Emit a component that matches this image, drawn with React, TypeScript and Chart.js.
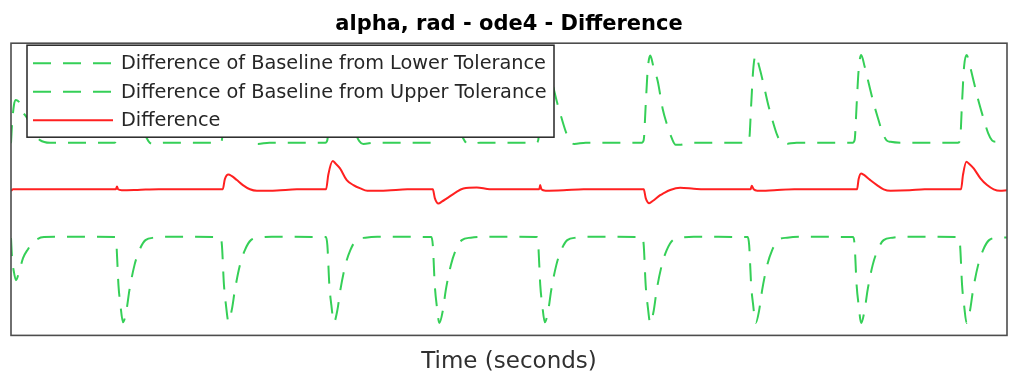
import React, { useEffect, useRef } from "react";
import { Chart, registerables } from "chart.js";

Chart.register(...registerables);

const TITLE = "alpha, rad - ode4 - Difference";
const X_LABEL = "Time (seconds)";
const LABEL_LOWER = "Difference of Baseline from Lower Tolerance";
const LABEL_UPPER = "Difference of Baseline from Upper Tolerance";
const LABEL_DIFF = "Difference";

const T_MIN = 0;
const T_MAX = 9.445;
const Y_MIN = -1;
const Y_MAX = 1;

const GREEN = "#35cf57";
const RED = "#ff2020";

// Lower tolerance difference (dashed green, lower curve)
const lowerTime = [
  0, 0.0095, 0.028, 0.047, 0.076, 0.114, 0.161, 0.209, 0.313, 0.465,
  0.986, 1.0, 1.019, 1.038, 1.062, 1.095, 1.123, 1.171, 1.218, 1.275, 1.36, 1.474,
  1.986, 2.0, 2.019, 2.038, 2.062, 2.095, 2.123, 2.171, 2.218, 2.275, 2.36, 2.474,
  2.986, 3.0, 3.019, 3.038, 3.062, 3.095, 3.123, 3.171, 3.218, 3.275, 3.36, 3.474,
  3.986, 4.0, 4.019, 4.038, 4.062, 4.095, 4.123, 4.171, 4.218, 4.275, 4.36, 4.474,
  4.986, 5.0, 5.019, 5.038, 5.062, 5.095, 5.123, 5.171, 5.218, 5.275, 5.36, 5.474,
  5.986, 6.0, 6.019, 6.038, 6.062, 6.095, 6.123, 6.171, 6.218, 6.275, 6.36, 6.474,
  6.986, 7.0, 7.019, 7.038, 7.062, 7.095, 7.123, 7.171, 7.218, 7.275, 7.36, 7.474,
  7.986, 8.0, 8.019, 8.038, 8.062, 8.095, 8.123, 8.171, 8.218, 8.275, 8.36, 8.474,
  8.986, 9.0, 9.019, 9.038, 9.062, 9.095, 9.123, 9.171, 9.218, 9.275, 9.36, 9.445,
];
const lowerValue = [
  -0.334, -0.464, -0.568, -0.622, -0.568, -0.471, -0.41, -0.362, -0.327, -0.325,
  -0.327, -0.382, -0.656, -0.793, -0.91, -0.827, -0.69, -0.519, -0.416, -0.348, -0.331, -0.325,
  -0.327, -0.382, -0.65, -0.79, -0.905, -0.82, -0.69, -0.519, -0.416, -0.348, -0.331, -0.325,
  -0.327, -0.382, -0.656, -0.793, -0.91, -0.827, -0.69, -0.519, -0.416, -0.348, -0.331, -0.325,
  -0.327, -0.382, -0.66, -0.8, -0.915, -0.83, -0.69, -0.52, -0.416, -0.348, -0.331, -0.325,
  -0.327, -0.382, -0.656, -0.793, -0.91, -0.827, -0.69, -0.519, -0.416, -0.348, -0.331, -0.325,
  -0.327, -0.382, -0.66, -0.8, -0.915, -0.83, -0.69, -0.52, -0.416, -0.348, -0.331, -0.325,
  -0.327, -0.382, -0.656, -0.793, -0.915, -0.827, -0.69, -0.519, -0.416, -0.348, -0.331, -0.325,
  -0.327, -0.382, -0.656, -0.793, -0.915, -0.827, -0.69, -0.519, -0.416, -0.348, -0.331, -0.325,
  -0.327, -0.382, -0.656, -0.793, -0.915, -0.827, -0.69, -0.519, -0.416, -0.348, -0.331, -0.33,
];

// Upper tolerance difference (dashed green, upper curve)
const upperTime = [
  0, 0.0095, 0.028, 0.047, 0.076, 0.114, 0.152, 0.209, 0.275, 0.37,
  0.981, 1.0, 1.019, 1.038, 1.062, 1.095, 1.133, 1.18, 1.218, 1.266, 1.303, 1.341, 1.45,
  1.981, 2.0, 2.019, 2.038, 2.062, 2.095, 2.133, 2.18, 2.218, 2.266, 2.303, 2.341, 2.45,
  2.981, 3.0, 3.019, 3.038, 3.062, 3.095, 3.133, 3.18, 3.218, 3.266, 3.303, 3.341, 3.45,
  3.981, 4.0, 4.019, 4.038, 4.062, 4.095, 4.133, 4.18, 4.218, 4.266, 4.303, 4.341, 4.45,
  4.981, 5.0, 5.019, 5.038, 5.062, 5.095, 5.133, 5.18, 5.218, 5.266, 5.303, 5.341, 5.45,
  5.981, 6.0, 6.019, 6.038, 6.062, 6.095, 6.133, 6.18, 6.218, 6.266, 6.303, 6.341, 6.45,
  6.981, 7.0, 7.019, 7.038, 7.062, 7.095, 7.133, 7.18, 7.218, 7.266, 7.303, 7.341, 7.45,
  7.981, 8.0, 8.019, 8.038, 8.062, 8.095, 8.133, 8.18, 8.218, 8.266, 8.303, 8.341, 8.45,
  8.981, 9.0, 9.019, 9.038, 9.062, 9.095, 9.133, 9.18, 9.218, 9.266, 9.303, 9.341, 9.445,
];
const upperValue = [
  0.316, 0.44, 0.577, 0.611, 0.597, 0.529, 0.488, 0.392, 0.337, 0.319,
  0.319, 0.337, 0.577, 0.816, 0.915, 0.83, 0.727, 0.59, 0.495, 0.385, 0.33, 0.31, 0.319,
  0.319, 0.337, 0.577, 0.816, 0.915, 0.83, 0.727, 0.59, 0.495, 0.385, 0.33, 0.31, 0.319,
  0.319, 0.337, 0.577, 0.816, 0.915, 0.83, 0.727, 0.59, 0.495, 0.385, 0.33, 0.31, 0.319,
  0.319, 0.337, 0.577, 0.816, 0.915, 0.83, 0.727, 0.59, 0.495, 0.385, 0.33, 0.31, 0.319,
  0.319, 0.337, 0.577, 0.816, 0.915, 0.83, 0.727, 0.59, 0.495, 0.385, 0.33, 0.31, 0.319,
  0.319, 0.337, 0.58, 0.82, 0.915, 0.83, 0.74, 0.55, 0.45, 0.35, 0.305, 0.305, 0.319,
  0.319, 0.337, 0.577, 0.816, 0.919, 0.84, 0.73, 0.58, 0.48, 0.37, 0.32, 0.31, 0.319,
  0.319, 0.337, 0.577, 0.816, 0.919, 0.84, 0.727, 0.59, 0.495, 0.385, 0.335, 0.325, 0.319,
  0.319, 0.337, 0.6, 0.84, 0.919, 0.84, 0.727, 0.59, 0.495, 0.385, 0.335, 0.325, 0.33,
];

// Difference (solid red)
const diffTime = [
  0, 0.02,
  0.995, 1.005, 1.015, 1.05, 1.2, 1.4,
  2.008, 2.028, 2.061, 2.095, 2.142, 2.199, 2.266, 2.332, 2.522, 2.711,
  2.988, 3.009, 3.051, 3.076, 3.12, 3.184, 3.247, 3.313, 3.379, 3.569, 3.759,
  4.0, 4.019, 4.053, 4.085, 4.133, 4.211, 4.29, 4.417, 4.541,
  5.01, 5.018, 5.03, 5.07, 5.24, 5.43,
  6.0, 6.019, 6.052, 6.085, 6.156, 6.185, 6.251, 6.346, 6.474, 6.569,
  7.014, 7.024, 7.043, 7.076, 7.237, 7.427,
  8.023, 8.038, 8.061, 8.085, 8.149, 8.212, 8.275, 8.341, 8.522, 8.664,
  9.009, 9.028, 9.06, 9.085, 9.129, 9.193, 9.256, 9.319, 9.379, 9.445,
];
const diffValue = [
  -0.01, 0,
  0, 0.02, 0, -0.006, -0.004, 0,
  0, 0.07, 0.102, 0.09, 0.063, 0.029, 0, -0.01, -0.008, 0,
  0, 0.1, 0.193, 0.178, 0.143, 0.063, 0.029, 0.006, -0.01, -0.008, 0,
  0, -0.06, -0.097, -0.085, -0.062, -0.024, 0.006, 0.013, 0,
  0, 0.029, 0, -0.01, -0.007, 0,
  0, -0.06, -0.095, -0.08, -0.04, -0.028, -0.005, 0.01, 0.004, 0,
  0, 0.024, 0, -0.01, -0.006, 0,
  0, 0.07, 0.109, 0.1, 0.063, 0.029, 0, -0.01, -0.007, 0,
  0, 0.1, 0.188, 0.175, 0.143, 0.075, 0.029, 0, -0.01, -0.006,
];

const pairs = (t: number[], v: number[]) => t.map((x, i) => ({ x, y: v[i] }));

const axesBoxPlugin = {
  id: "axesBox",
  afterDraw(chart: any) {
    const { left, top, right, bottom } = chart.chartArea;
    const ctx = chart.ctx;
    ctx.save();
    ctx.strokeStyle = "#4d4d4d";
    ctx.lineWidth = 1.6;
    ctx.setLineDash([]);
    ctx.strokeRect(left, top, right - left, bottom - top);
    ctx.restore();
  },
};

const boxedLegendPlugin = {
  id: "boxedLegend",
  afterDatasetsDraw(chart: any) {
    const ctx = chart.ctx;
    const { left, top } = chart.chartArea;
    const x0 = left + 16;
    const y0 = top + 2;
    const w = 527;
    const h = 92;
    ctx.save();
    ctx.fillStyle = "#ffffff";
    ctx.fillRect(x0, y0, w, h);
    ctx.strokeStyle = "#262626";
    ctx.lineWidth = 1.5;
    ctx.strokeRect(x0, y0, w, h);
    chart.data.datasets.forEach((ds: any, i: number) => {
      const cy = y0 + 18 + i * 28.5;
      ctx.beginPath();
      ctx.setLineDash(ds.borderDash || []);
      ctx.strokeStyle = ds.borderColor;
      ctx.lineWidth = ds.borderWidth;
      ctx.moveTo(x0 + 6, cy);
      ctx.lineTo(x0 + 86, cy);
      ctx.stroke();
      ctx.setLineDash([]);
      ctx.fillStyle = "#262626";
      ctx.font = '19.3px "DejaVu Sans"';
      ctx.textBaseline = "middle";
      ctx.textAlign = "left";
      ctx.fillText(ds.label, x0 + 94, cy + 1);
    });
    ctx.restore();
  },
};

export default function App() {
  const canvasRef = useRef<HTMLCanvasElement | null>(null);

  useEffect(() => {
    const canvas = canvasRef.current;
    if (!canvas) return;
    const chart = new Chart(canvas, {
      type: "line",
      data: {
        datasets: [
          {
            label: LABEL_LOWER,
            data: pairs(lowerTime, lowerValue),
            borderColor: GREEN,
            borderWidth: 2,
            borderDash: [18, 12],
            pointRadius: 0,
            fill: false,
            cubicInterpolationMode: "monotone",
          },
          {
            label: LABEL_UPPER,
            data: pairs(upperTime, upperValue),
            borderColor: GREEN,
            borderWidth: 2,
            borderDash: [18, 12],
            pointRadius: 0,
            fill: false,
            cubicInterpolationMode: "monotone",
          },
          {
            label: LABEL_DIFF,
            data: pairs(diffTime, diffValue),
            borderColor: RED,
            borderWidth: 2,
            pointRadius: 0,
            fill: false,
            cubicInterpolationMode: "monotone",
          },
        ],
      } as any,
      options: {
        animation: false,
        responsive: false,
        devicePixelRatio: 1,
        layout: { padding: { left: 11, right: 2, top: 0, bottom: 0 } },
        scales: {
          x: {
            type: "linear",
            min: T_MIN,
            max: T_MAX,
            grid: { display: false, drawTicks: false, tickLength: 0 },
            border: { display: false },
            ticks: { display: false },
            title: {
              display: true,
              text: X_LABEL,
              color: "#303030",
              font: { family: "DejaVu Sans", size: 23 },
              padding: { top: 13, bottom: 2 },
            },
          },
          y: { display: false, min: Y_MIN, max: Y_MAX },
        },
        plugins: {
          legend: { display: false },
          tooltip: { enabled: false },
          title: {
            display: true,
            text: TITLE,
            color: "#000000",
            font: { family: "DejaVu Sans", size: 21, weight: "bold" },
            padding: { top: 12, bottom: 6 },
          },
        },
      } as any,
      plugins: [boxedLegendPlugin, axesBoxPlugin],
    });
    return () => chart.destroy();
  }, []);

  return (
    <div style={{ position: "absolute", left: 0, top: 0, width: 1009, height: 378, background: "#fff" }}>
      <canvas ref={canvasRef} width={1009} height={378} style={{ width: 1009, height: 378, display: "block" }} />
    </div>
  );
}
